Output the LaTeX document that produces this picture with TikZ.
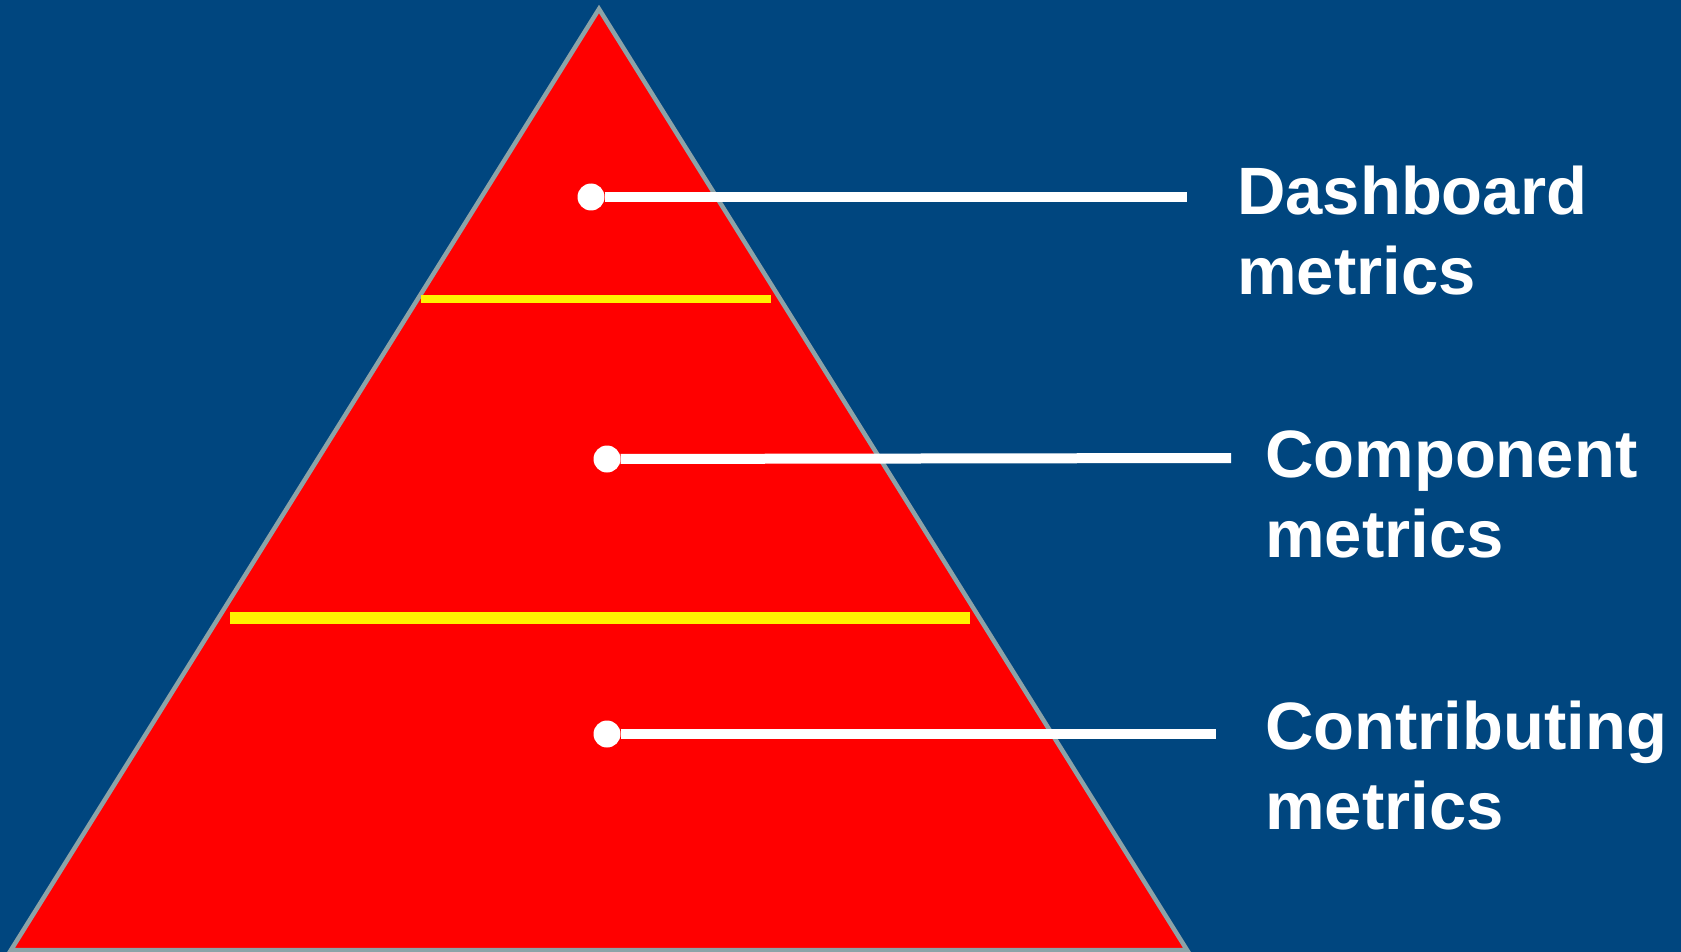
\documentclass[tikz,border=0pt]{standalone}
\usepackage{fontspec}
\setmainfont{Liberation Sans}
\usetikzlibrary{positioning}
\definecolor{slideblue}{RGB}{0,70,127}
\definecolor{edgegray}{RGB}{140,163,168}

\begin{document}
\begin{tikzpicture}[x=1pt, y=-1pt,
  dot/.style={circle, fill=white, inner sep=0pt, minimum size=27pt},
  leader/.style={white, line width=10pt},
  band/.style={yellow, line width=#1},
  metric/.style={white, anchor=base west, align=left, inner sep=0pt, font=\fontsize{67}{80}\selectfont\bfseries}]
\fill[slideblue] (0,0) rectangle (1681,952);
\useasboundingbox (0,0) rectangle (1681,952);
% pyramid
\draw[edgegray, line width=4.5pt, fill=red] (599,9) -- (1187,950) -- (11,950) -- cycle;
\draw[band=8pt] (421,299) -- (771,299);
\draw[band=12pt] (230,618) -- (970,618);
% levels
\node[dot] (dash) at (591,197) {};
\node[dot] (comp) at (607,459) {};
\node[dot] (contrib) at (607,734) {};
\coordinate (dashend) at (1187,197);
\coordinate (compend) at (1231,458);
\coordinate (contribend) at (1216,734);
\draw[leader] (dash) -- (dashend);
\draw[leader] (comp) -- (compend);
\draw[leader] (contrib) -- (contribend);
% labels (base = last line)
\node[metric] (dashtxt) at (1237,294) {Dashboard\\metrics};
\node[metric] (comptxt) at (1265,557) {Component\\metrics};
\node[metric] (contribtxt) at (1265,829) {Contributing\\metrics};
\end{tikzpicture}
\end{document}
